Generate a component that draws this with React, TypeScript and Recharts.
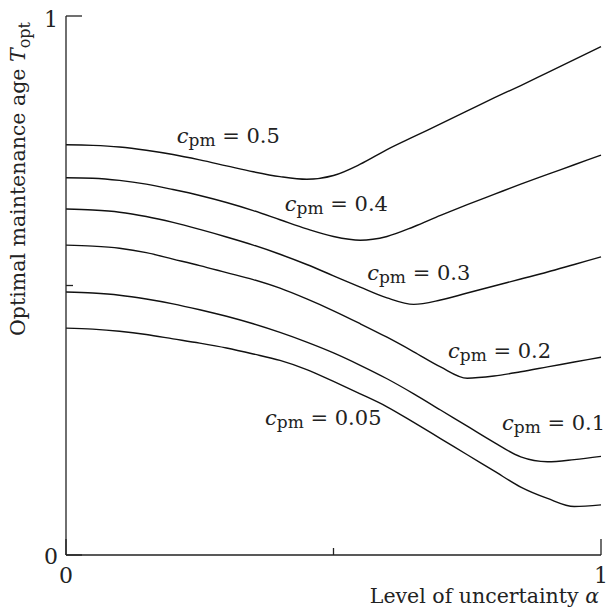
import { LineChart, Line, XAxis, YAxis, ReferenceDot, Label } from 'recharts';

// level of uncertainty alpha
const alpha = [0, 0.05, 0.1, 0.15, 0.2, 0.25, 0.3, 0.35, 0.4, 0.45, 0.5, 0.55, 0.6, 0.65, 0.7, 0.75, 0.8, 0.85, 0.9, 0.95, 1];

// optimal maintenance age T_opt for each c_pm
const cpm050 = [0.761, 0.760, 0.757, 0.751, 0.743, 0.733, 0.722, 0.711, 0.702, 0.697, 0.704, 0.725, 0.752, 0.776, 0.800, 0.824, 0.848, 0.871, 0.895, 0.919, 0.943];
const cpm040 = [0.700, 0.699, 0.695, 0.688, 0.678, 0.667, 0.654, 0.639, 0.622, 0.605, 0.591, 0.584, 0.591, 0.609, 0.630, 0.650, 0.669, 0.688, 0.706, 0.724, 0.742];
const cpm030 = [0.642, 0.640, 0.636, 0.628, 0.617, 0.604, 0.590, 0.575, 0.558, 0.539, 0.518, 0.497, 0.477, 0.465, 0.473, 0.486, 0.499, 0.512, 0.525, 0.539, 0.553];
const cpm020 = [0.575, 0.573, 0.569, 0.561, 0.549, 0.537, 0.524, 0.511, 0.495, 0.475, 0.453, 0.429, 0.404, 0.377, 0.349, 0.328, 0.332, 0.340, 0.349, 0.358, 0.367];
const cpm010 = [0.488, 0.486, 0.482, 0.475, 0.466, 0.455, 0.443, 0.429, 0.413, 0.395, 0.375, 0.352, 0.327, 0.299, 0.269, 0.239, 0.209, 0.182, 0.173, 0.177, 0.183];
const cpm005 = [0.421, 0.419, 0.415, 0.409, 0.401, 0.393, 0.384, 0.373, 0.361, 0.344, 0.322, 0.299, 0.275, 0.246, 0.216, 0.186, 0.156, 0.126, 0.105, 0.090, 0.093];

const seriesKeys = ['c050', 'c040', 'c030', 'c020', 'c010', 'c005'];
const seriesValues = [cpm050, cpm040, cpm030, cpm020, cpm010, cpm005];

// curve labels: text, alpha, T at the text baseline start
const labelText = ['0.5', '0.4', '0.3', '0.2', '0.1', '0.05'];
const labelAlpha = [0.207, 0.409, 0.563, 0.714, 0.815, 0.372];
const labelT = [0.764, 0.638, 0.510, 0.366, 0.232, 0.241];

const xTicks = [0, 0.5, 1];
const yTicks = [0, 0.5, 1];

const data = alpha.map((a, i) => {
  const row: Record<string, number> = { a };
  seriesKeys.forEach((k, j) => (row[k] = seriesValues[j][i]));
  return row;
});

const FONT = '"DejaVu Serif", "Liberation Serif", serif';
const INK = '#222';

const XTick = ({ x, y, payload }: any) => {
  const v = payload.value;
  const len = v === 0.5 ? 7 : 16;
  return (
    <g>
      <line x1={x} y1={y} x2={x} y2={y - len} stroke={INK} strokeWidth={1.3} />
      {v !== 0.5 && (
        <text x={x} y={y + 28} textAnchor="middle" fontFamily={FONT} fontSize={22} fill={INK}>
          {v}
        </text>
      )}
    </g>
  );
};

const YTick = ({ x, y, payload }: any) => {
  const v = payload.value;
  const len = v === 0.5 ? 7 : 16;
  return (
    <g>
      <line x1={x} y1={y} x2={x + len} y2={y} stroke={INK} strokeWidth={1.3} />
      {v !== 0.5 && (
        <text x={x - 8} y={y + (v === 1 ? 11 : 9)} textAnchor="end" fontFamily={FONT} fontSize={22} fill={INK}>
          {v}
        </text>
      )}
    </g>
  );
};

const CurveLabel = (text: string) => (props: any) => (
  <text x={props.cx} y={props.cy} fontFamily={FONT} fontSize={21} fill={INK}>
    <tspan fontStyle="italic">c</tspan>
    <tspan fontSize={17} dy={3}>pm</tspan>
    <tspan dy={-3}>{' = ' + text}</tspan>
  </text>
);

export default function App() {
  return (
    <div style={{ position: 'fixed', left: 0, top: 0, width: 608, height: 611, background: '#fff' }}>
      <LineChart width={608} height={611} data={data} margin={{ top: 16, right: 7, left: 0, bottom: 0 }}>
        <XAxis
          dataKey="a"
          type="number"
          domain={[0, 1]}
          ticks={xTicks}
          interval={0}
          height={56}
          tickSize={0}
          tickMargin={0}
          tickLine={false}
          tick={<XTick />}
          axisLine={{ stroke: INK, strokeWidth: 1.3 }}
        >
          <Label
            content={({ viewBox }: any) => (
              <text
                x={viewBox.x + viewBox.width - 2}
                y={viewBox.y + 48}
                textAnchor="end"
                fontFamily={FONT}
                fontSize={20.5}
                fill={INK}
              >
                Level of uncertainty <tspan fontStyle="italic">α</tspan>
              </text>
            )}
          />
        </XAxis>
        <YAxis
          type="number"
          domain={[0, 1]}
          ticks={yTicks}
          interval={0}
          width={66}
          tickSize={0}
          tickMargin={0}
          tickLine={false}
          tick={<YTick />}
          axisLine={{ stroke: INK, strokeWidth: 1.3 }}
        >
          <Label
            content={({ viewBox }: any) => (
              <text
                x={viewBox.x + 25}
                y={viewBox.y + 6}
                transform={`rotate(-90 ${viewBox.x + 25} ${viewBox.y + 6})`}
                textAnchor="end"
                fontFamily={FONT}
                fontSize={20.5}
                fill={INK}
              >
                Optimal maintenance age <tspan fontStyle="italic">T</tspan>
                <tspan fontSize={16} dy={5}>opt</tspan>
              </text>
            )}
          />
        </YAxis>
        {seriesKeys.map((k) => (
          <Line
            key={k}
            type="monotone"
            dataKey={k}
            stroke="#111"
            strokeWidth={1.4}
            dot={false}
            isAnimationActive={false}
          />
        ))}
        {labelText.map((t, i) => (
          <ReferenceDot
            key={t}
            x={labelAlpha[i]}
            y={labelT[i]}
            r={0}
            ifOverflow="visible"
            shape={CurveLabel(t)}
          />
        ))}
      </LineChart>
    </div>
  );
}
